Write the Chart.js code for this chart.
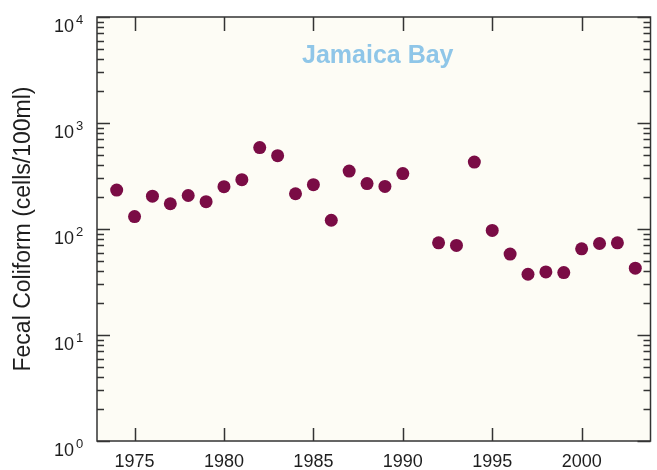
<!DOCTYPE html>
<html>
<head>
<meta charset="utf-8">
<script src="https://cdn.jsdelivr.net/npm/chart.js@4"></script>
<style>
  html, body { margin: 0; padding: 0; background: #fff; }
  #wrap { width: 657px; height: 470px; }
</style>
</head>
<body>
<div id="wrap"><canvas id="coliform"></canvas></div>
<script>
// annual geometric mean, fecal coliform, Jamaica Bay (no 1991 value)
var years = [1974, 1975, 1976, 1977, 1978, 1979, 1980, 1981, 1982, 1983, 1984, 1985, 1986, 1987, 1988, 1989, 1990,
             1992, 1993, 1994, 1995, 1996, 1997, 1998, 1999, 2000, 2001, 2002, 2003];
var fecalColiform = [233, 131, 204, 173, 207, 181, 251, 292, 586, 492, 215, 262, 121, 352, 268, 252, 333,
                     74, 70, 428, 97, 58, 37.4, 39.4, 38.8, 65, 73, 74, 42.7];
var xTickYears = [1975, 1980, 1985, 1990, 1995, 2000];
var yDecades = [0, 1, 2, 3, 4];
var stationName = 'Jamaica Bay';
var yTitle = 'Fecal Coliform (cells/100ml)';

var FONT = '"Liberation Sans", Arial, Helvetica, sans-serif';

var points = years.map(function (yr, i) {
  return { x: yr, y: fecalColiform[i] };
});

// frame, inward ticks, 10^n labels, station name
var framePlugin = {
  id: 'frame',
  beforeDraw: function (chart) {
    var a = chart.chartArea, ctx = chart.ctx;
    ctx.save();
    ctx.fillStyle = '#fdfcf5';
    ctx.fillRect(a.left, a.top, a.right - a.left, a.bottom - a.top);
    ctx.restore();
  },
  afterDraw: function (chart) {
    var a = chart.chartArea, ctx = chart.ctx;
    var xs = chart.scales.x, ys = chart.scales.y;
    ctx.save();
    ctx.strokeStyle = '#333';
    ctx.lineWidth = 1.5;
    ctx.strokeRect(a.left, a.top, a.right - a.left, a.bottom - a.top);

    ctx.beginPath();
    xTickYears.forEach(function (yr) {
      var px = Math.round(xs.getPixelForValue(yr)) + 0.5;
      ctx.moveTo(px, a.bottom); ctx.lineTo(px, a.bottom - 13);
      ctx.moveTo(px, a.top); ctx.lineTo(px, a.top + 14);
    });
    yDecades.forEach(function (d) {
      for (var m = 1; m <= 9; m++) {
        var v = m * Math.pow(10, d);
        if (v > ys.max) break;
        var py = Math.round(ys.getPixelForValue(v)) + 0.5;
        var len = m === 1 ? 13 : 7;
        ctx.moveTo(a.left, py); ctx.lineTo(a.left + len, py);
        ctx.moveTo(a.right, py); ctx.lineTo(a.right - len, py);
      }
    });
    ctx.stroke();

    ctx.fillStyle = '#1e1e1e';
    yDecades.forEach(function (d) {
      var py = ys.getPixelForValue(Math.pow(10, d));
      ctx.font = '18px ' + FONT;
      ctx.textAlign = 'right';
      ctx.textBaseline = 'alphabetic';
      ctx.fillText('10', a.left - 23, py + 15);
      ctx.font = '13px ' + FONT;
      ctx.textAlign = 'left';
      ctx.fillText(String(d), a.left - 21, py + 7);
    });

    ctx.fillStyle = '#8fc6e8';
    ctx.font = 'bold 25px ' + FONT;
    ctx.textAlign = 'center';
    ctx.fillText(stationName, (a.left + a.right) / 2 + 4, a.top + 46);
    ctx.restore();
  }
};

var context = document.getElementById('coliform').getContext('2d');
var myChart = new Chart(context, {
  type: 'scatter',
  data: {
    datasets: [{
      label: stationName,
      data: points,
      backgroundColor: '#7a0c45',
      borderWidth: 0,
      pointRadius: 6.5,
      pointHoverRadius: 6.5
    }]
  },
  options: {
    responsive: true,
    maintainAspectRatio: false,
    animation: false,
    devicePixelRatio: 1,
    layout: { padding: { top: 17, right: 2, left: 0, bottom: 0 } },
    plugins: {
      legend: { display: false },
      title: { display: false },
      tooltip: { enabled: false }
    },
    scales: {
      x: {
        type: 'linear',
        min: 1972.9,
        max: 2003.85,
        grid: { display: false },
        border: { display: false },
        afterBuildTicks: function (scale) {
          scale.ticks = xTickYears.map(function (v) { return { value: v }; });
        },
        afterFit: function (scale) { scale.height = 29; },
        ticks: {
          padding: 2,
          color: '#1e1e1e',
          font: { family: FONT, size: 18 },
          maxRotation: 0,
          callback: function (v) { return String(v); }
        }
      },
      y: {
        type: 'logarithmic',
        min: 1,
        max: 10000,
        grid: { display: false },
        border: { display: false },
        ticks: { display: false },
        afterFit: function (scale) { scale.width = 97; },
        title: {
          display: true,
          text: yTitle,
          color: '#1e1e1e',
          font: { family: FONT, size: 23 },
          padding: { top: 10, bottom: 0 }
        }
      }
    }
  },
  plugins: [framePlugin]
});
</script>
</body>
</html>
